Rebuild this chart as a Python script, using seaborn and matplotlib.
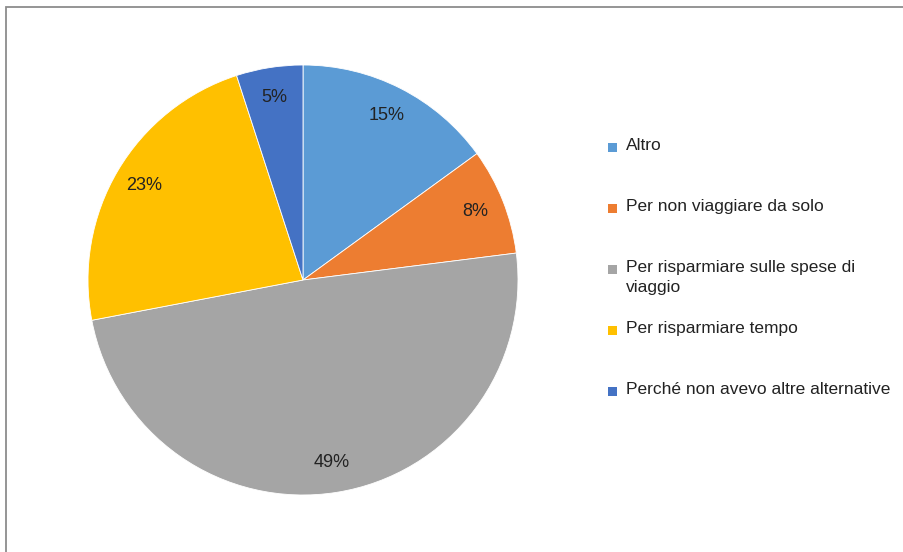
import matplotlib
matplotlib.use("Agg")
import matplotlib.pyplot as plt
from matplotlib.patches import Rectangle
import seaborn as sns

# === Data ===
categories = [
    "Altro",
    "Per non viaggiare da solo",
    "Per risparmiare sulle spese di\nviaggio",
    "Per risparmiare tempo",
    "Perché non avevo altre alternative",
]
shares = [15, 8, 49, 23, 5]
colors = ["#5B9BD5", "#ED7D31", "#A5A5A5", "#FFC000", "#4472C4"]

sns.set_theme(style="white")
plt.rcParams["font.family"] = ["Liberation Sans", "DejaVu Sans"]

W, H = 904, 552
fig = plt.figure(figsize=(W / 100, H / 100), dpi=100)
fig.patch.set_facecolor("white")

# chart frame (runs off the right and bottom edges)
fig.patches.append(Rectangle((6.5 / W, -0.1), 1.2, 1.1 - 7.5 / H, transform=fig.transFigure,
                             fill=False, edgecolor="#8c8c8c", linewidth=1.3))

# === Pie ===
cx, cy, r = 303, 280, 215
ax = fig.add_axes([(cx - r) / W, (H - cy - r) / H, 2 * r / W, 2 * r / H])
wedges, texts, autotexts = ax.pie(
    shares, colors=colors, startangle=90, counterclock=False,
    autopct="%.0f%%", pctdistance=0.86,
    wedgeprops=dict(edgecolor="white", linewidth=0.6),
    textprops=dict(fontsize=13, color="#222222"),
)
ax.set_xlim(-1, 1)
ax.set_ylim(-1, 1)
ax.set_aspect("equal")
ax.axis("off")

# === Legend (Excel-style, markers aligned with first line) ===
for i, (lab, col) in enumerate(zip(categories, colors)):
    y = H - (147 + 61 * i)
    fig.patches.append(Rectangle((608 / W, (y - 4.5) / H), 9 / W, 9 / H,
                                 transform=fig.transFigure, facecolor=col, edgecolor="none"))
    fig.text(626 / W, (y + 9) / H, lab, fontsize=12.5, color="#222222",
             va="top", ha="left", linespacing=1.45)

fig.savefig("out.png", dpi=100, facecolor="white")
